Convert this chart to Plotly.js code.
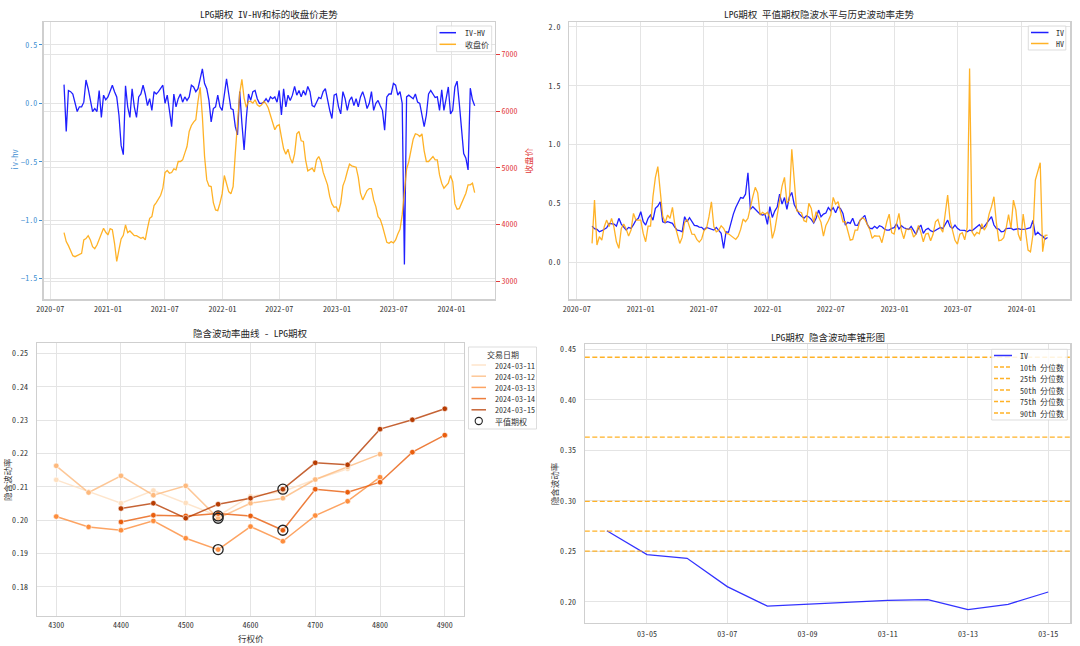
<!DOCTYPE html>
<html>
<head>
<meta charset="utf-8">
<script src="https://cdn.plot.ly/plotly-3.0.1.min.js"></script>
<style>
  html, body { margin: 0; padding: 0; background: #ffffff; }
  #chart { width: 1080px; height: 646px; }
</style>
</head>
<body>
<div id="chart"></div>
<script>
// ---------------------------------------------------------------------------
// Data
// ---------------------------------------------------------------------------
// History series are sampled once a week starting from this date.
const historyStart = '2020-08-14';
const historyStepDays = 7;

// IV - HV spread of the at-the-money option
const ivHv = [
  0.16,-0.24,0.11,0.10,0.08,0.00,-0.07,-0.03,-0.03,0.01,
  0.20,0.125,0.01,-0.07,-0.045,-0.07,0.11,-0.12,0.07,0.03,
  0.055,0.11,0.155,0.10,0.055,-0.10,-0.36,-0.44,0.15,-0.03,
  -0.12,0.125,-0.03,-0.12,0.055,0.08,0.155,0.08,-0.02,0.04,
  -0.06,0.10,0.08,0.10,0.125,0.155,0.00,0.07,-0.06,-0.20,
  0.08,-0.03,0.04,0.08,0.01,0.055,0.025,0.055,0.155,0.14,
  0.10,0.125,0.21,0.295,0.17,0.125,0.025,-0.16,-0.045,-0.03,
  0.07,-0.03,-0.06,0.08,0.21,0.08,-0.045,-0.055,-0.20,-0.27,
  0.10,-0.17,-0.40,-0.13,0.08,0.025,0.10,0.11,0.04,0.00,
  0.00,0.01,0.04,0.01,0.055,0.04,0.055,0.01,0.11,-0.10,
  0.125,-0.03,0.07,0.025,0.07,0.145,0.07,0.11,0.055,0.11,
  0.07,0.145,0.10,-0.02,-0.03,0.01,0.05,0.04,0.10,0.125,
  0.025,-0.06,-0.13,0.07,0.08,-0.03,-0.09,0.10,0.04,-0.06,
  0.025,0.055,-0.02,0.04,-0.03,0.055,0.10,0.04,-0.045,0.00,
  0.10,-0.06,0.00,0.025,-0.02,-0.06,-0.23,0.055,0.08,0.08,
  0.17,0.155,0.07,0.10,0.00,-1.38,0.055,0.07,0.055,0.04,
  0.08,0.01,0.00,-0.10,-0.20,-0.10,0.08,0.11,0.08,0.05,
  0.055,-0.06,0.115,-0.06,0.04,0.14,-0.09,-0.06,0.14,0.19,
  0.00,-0.20,-0.43,-0.47,-0.57,0.13,0.03,-0.02
];

// Underlying close price
const closePrice = [
  3859,3700,3629,3524,3453,3435,3453,3465,3494,3730,
  3753,3806,3730,3612,3576,3641,3747,3847,3935,3865,
  3818,3929,3912,3671,3350,3553,3747,3812,3994,3859,
  3888,3847,3806,3806,3788,3759,3776,3730,3935,4112,
  4141,4335,4388,4447,4518,4641,4918,4953,4906,4918,
  4982,4965,5112,5112,5141,5259,5376,5641,5747,5806,
  5847,6171,6420,5906,5200,4788,4682,4671,4388,4259,
  4247,4376,4541,4865,4741,4582,4541,4671,5259,5847,
  6318,6560,6229,6065,6171,6171,6141,6200,6112,6082,
  6112,6171,6129,6053,5935,5776,5671,5741,5759,5541,
  5335,5241,5329,5171,5082,5247,5600,5641,5476,5465,
  5141,4947,4965,4994,4929,5141,5200,5112,4924,4818,
  4700,4494,4365,4306,4312,4224,4376,4682,4788,4935,
  5065,5035,5024,5012,4835,4553,4435,4529,4600,4635,
  4635,4435,4318,4141,4094,3976,3818,3688,3671,3700,
  3676,3729,3835,3918,4171,4612,4976,5112,5347,5506,
  5600,5588,5553,5600,5300,5112,5112,5159,5200,5141,
  5141,4876,4729,4641,4688,4729,4865,4759,4365,4271,
  4282,4376,4482,4553,4700,4700,4729,4565
];

// At-the-money implied volatility
const atmIv = [
  0.307,0.285,0.279,0.259,0.268,0.279,0.293,0.330,0.330,0.324,
  0.307,0.373,0.324,0.293,0.273,0.296,0.288,0.319,0.358,0.373,
  0.429,0.344,0.316,0.373,0.401,0.358,0.458,0.477,0.514,0.344,
  0.336,0.344,0.339,0.330,0.296,0.273,0.268,0.259,0.387,0.344,
  0.378,0.350,0.313,0.310,0.299,0.296,0.276,0.296,0.288,0.279,
  0.273,0.296,0.273,0.245,0.118,0.259,0.254,0.344,0.409,0.465,
  0.504,0.550,0.544,0.578,0.760,0.449,0.472,0.446,0.429,0.409,
  0.401,0.409,0.322,0.472,0.381,0.435,0.469,0.578,0.494,0.550,
  0.449,0.555,0.593,0.491,0.449,0.412,0.390,0.375,0.395,0.384,
  0.364,0.333,0.373,0.443,0.387,0.409,0.418,0.465,0.438,0.463,
  0.421,0.472,0.455,0.415,0.316,0.339,0.330,0.373,0.316,0.313,
  0.356,0.378,0.398,0.322,0.290,0.285,0.305,0.288,0.310,0.302,
  0.282,0.273,0.273,0.288,0.293,0.327,0.282,0.310,0.293,0.285,
  0.279,0.305,0.271,0.237,0.290,0.316,0.245,0.276,0.288,0.268,
  0.259,0.273,0.285,0.296,0.285,0.316,0.358,0.302,0.288,0.316,
  0.288,0.273,0.273,0.271,0.259,0.273,0.268,0.285,0.299,0.319,
  0.288,0.302,0.330,0.358,0.387,0.316,0.288,0.282,0.259,0.262,
  0.285,0.288,0.290,0.276,0.282,0.285,0.279,0.279,0.282,0.288,
  0.293,0.356,0.231,0.256,0.234,0.222,0.196,0.2095
];

// Historical volatility
const histVol = [
  0.160,0.528,0.146,0.217,0.188,0.302,0.358,0.302,0.373,0.296,
  0.174,0.118,0.288,0.324,0.282,0.222,0.273,0.415,0.358,0.358,
  0.358,0.245,0.174,0.307,0.307,0.557,0.721,0.812,0.585,0.392,
  0.336,0.401,0.373,0.466,0.316,0.231,0.160,0.211,0.336,0.364,
  0.293,0.239,0.237,0.194,0.171,0.197,0.271,0.288,0.387,0.514,
  0.302,0.259,0.271,0.310,0.288,0.245,0.242,0.225,0.214,0.194,
  0.222,0.279,0.367,0.344,0.373,0.472,0.557,0.636,0.590,0.401,
  0.424,0.407,0.424,0.378,0.203,0.273,0.409,0.514,0.647,0.721,
  0.506,0.528,0.959,0.698,0.438,0.429,0.421,0.353,0.344,0.500,
  0.457,0.336,0.429,0.387,0.339,0.222,0.313,0.353,0.401,0.551,
  0.494,0.514,0.429,0.344,0.344,0.273,0.188,0.194,0.273,0.273,
  0.356,0.378,0.364,0.322,0.279,0.203,0.225,0.222,0.222,0.166,
  0.268,0.344,0.409,0.251,0.239,0.324,0.415,0.268,0.200,0.282,
  0.279,0.282,0.214,0.239,0.313,0.254,0.174,0.239,0.245,0.183,
  0.237,0.344,0.364,0.293,0.256,0.401,0.571,0.353,0.268,0.186,
  0.154,0.239,0.251,0.191,0.296,1.647,0.259,0.225,0.254,0.242,
  0.327,0.273,0.307,0.409,0.472,0.557,0.336,0.183,0.188,0.208,
  0.288,0.404,0.288,0.528,0.443,0.237,0.183,0.409,0.259,0.103,
  0.089,0.231,0.698,0.777,0.845,0.089,0.228,0.231
];

// Volatility smile by trading day (null = strike not quoted)
const smileStrikes = [4300,4350,4400,4450,4500,4550,4600,4650,4700,4750,4800,4850,4900];
const smileDates   = ['2024-03-11','2024-03-12','2024-03-13','2024-03-14','2024-03-15'];
const smile0311 = [0.2121,0.2085,0.2051,0.2089,0.2052,0.2013,0.2072,0.2086,0.2122,0.2154,null,null,null];
const smile0312 = [0.2163,0.2083,0.2133,0.2075,0.2103,0.2006,0.2051,0.2066,0.2122,0.2160,0.2198,null,null];
const smile0313 = [0.2011,0.1980,0.1970,0.1998,0.1946,0.1912,0.1981,0.1937,0.2014,0.2057,0.2129,null,null];
const smile0314 = [null,null,0.1995,0.2015,0.2013,0.2020,0.2013,0.1970,0.2093,0.2084,0.2114,0.2204,0.2255];
const smile0315 = [null,null,0.2035,0.2051,0.2006,0.2048,0.2066,0.2093,0.2172,0.2166,0.2273,0.2301,0.2334];
const atmStrikes = [4550,4550,4550,4650,4650];
const smileColors = ['#fedfbf','#fdb97d','#fd8d3c','#e95e0d','#b73c02'];

// Volatility cone: recent ATM IV and historical percentiles
const coneDates = ['2024-03-04','2024-03-05','2024-03-06','2024-03-07','2024-03-08',
                   '2024-03-11','2024-03-12','2024-03-13','2024-03-14','2024-03-15'];
const coneIv = [0.2702,0.2467,0.2430,0.2149,0.1957,0.2013,0.2020,0.1921,0.1974,0.2096];
const percentileLabels = ['10th 分位数','25th 分位数','50th 分位数','75th 分位数','90th 分位数'];
const percentileValues = [0.2500,0.2699,0.2993,0.3629,0.4421];

// ---------------------------------------------------------------------------
// Helpers
// ---------------------------------------------------------------------------
const W = 1080, H = 646;
const FONT = '"Noto Sans Mono CJK SC", "Noto Sans CJK SC", "DejaVu Sans", sans-serif';
const px = v => v / W;          // pixel column -> paper x
const py = v => 1 - v / H;      // pixel row -> paper y
const DAY = 864e5;

function weeklyDates(start, n, step) {
  const t0 = Date.parse(start);
  return Array.from({ length: n }, (_, k) => new Date(t0 + k * step * DAY).toISOString().slice(0, 10));
}
function paddedDateRange(dates, frac) {
  const a = Date.parse(dates[0]), b = Date.parse(dates[dates.length - 1]);
  const pad = (b - a) * frac;
  return [a - pad, b + pad];
}
function rgba(hex, a) {
  const n = parseInt(hex.slice(1), 16);
  return `rgba(${(n >> 16) & 255},${(n >> 8) & 255},${n & 255},${a})`;
}

const historyDates = weeklyDates(historyStart, ivHv.length, historyStepDays);
const historyRange = paddedDateRange(historyDates, 0.05);
const coneRange = paddedDateRange(coneDates, 0.05);
const smileSeries = [smile0311, smile0312, smile0313, smile0314, smile0315];

const BLUE = 'rgba(0,0,255,0.88)';
const ORANGE = 'rgba(255,165,0,0.85)';
const GRID = '#e4e4e4';
const SPINE = '#cfcfcf';
const TEXT = '#333333';
const LBLUE = '#3f8fd2';
const LRED = '#e23b3b';

// ---------------------------------------------------------------------------
// Traces
// ---------------------------------------------------------------------------
const traces = [];
const line = (x, y, xa, ya, color, width, dash) => ({
  type: 'scatter', mode: 'lines', x, y, xaxis: xa, yaxis: ya,
  line: { color, width, dash: dash || 'solid' }, hoverinfo: 'skip', showlegend: false
});

// top-left: IV-HV and close price
traces.push(line(historyDates, ivHv, 'x', 'y', BLUE, 1.3));
traces.push(line(historyDates, closePrice, 'x', 'y2', ORANGE, 1.3));

// top-right: ATM IV vs HV
traces.push(line(historyDates, atmIv, 'x2', 'y3', BLUE, 1.3));
traces.push(line(historyDates, histVol, 'x2', 'y3', ORANGE, 1.3));

// bottom-left: smile per trading day
smileSeries.forEach((ys, i) => {
  traces.push({
    type: 'scatter', mode: 'lines+markers', x: smileStrikes, y: ys, xaxis: 'x3', yaxis: 'y4',
    line: { color: rgba(smileColors[i], 0.8), width: 1.5 },
    marker: { color: smileColors[i], size: 5.5, line: { color: '#ffffff', width: 0.6 } },
    connectgaps: false, hoverinfo: 'skip', showlegend: false
  });
});
// ATM rings
traces.push({
  type: 'scatter', mode: 'markers', xaxis: 'x3', yaxis: 'y4',
  x: atmStrikes,
  y: atmStrikes.map((s, i) => smileSeries[i][smileStrikes.indexOf(s)]),
  marker: { symbol: 'circle', size: 10, color: 'rgba(0,0,0,0)', line: { color: '#222222', width: 1.3 } },
  hoverinfo: 'skip', showlegend: false
});

// bottom-right: volatility cone
traces.push(line(coneDates, coneIv, 'x4', 'y5', 'rgba(0,0,255,0.8)', 1.3));
percentileValues.forEach(v => {
  traces.push(line(coneRange, [v, v], 'x4', 'y5', ORANGE, 1.3, '5px,2.5px'));
});

// ---------------------------------------------------------------------------
// Axes
// ---------------------------------------------------------------------------
function axis(extra) {
  return Object.assign({
    showgrid: true, gridcolor: GRID, gridwidth: 1, zeroline: false,
    showline: true, linecolor: SPINE, linewidth: 1.2, mirror: true,
    ticks: 'outside', ticklen: 4, tickcolor: 'rgba(0,0,0,0)',
    tickfont: { size: 8, color: TEXT, family: FONT }
  }, extra);
}

const topY = [py(299.3), py(21.7)];

const layout = {
  width: W, height: H,
  margin: { l: 0, r: 0, t: 0, b: 0 },
  paper_bgcolor: '#ffffff', plot_bgcolor: '#ffffff',
  showlegend: false,
  font: { family: FONT, size: 8, color: TEXT },

  xaxis: axis({ domain: [px(43.5), px(495.2)], anchor: 'y', type: 'date', range: historyRange,
                tick0: '2020-07-01', dtick: 'M6', tickformat: '%Y-%m', ticklen: 2 }),
  yaxis: axis({ domain: topY, anchor: 'x', range: [-1.678, 0.699], tick0: 0, dtick: 0.5,
                tickformat: '.1f', ticklen: 3.5, tickcolor: LBLUE, tickfont: { size: 8, color: LBLUE, family: FONT } }),
  yaxis2: axis({ overlaying: 'y', side: 'right', anchor: 'x', range: [2684, 7575], tick0: 0, dtick: 1000,
                 mirror: false, ticklen: 3.5, tickcolor: LRED, tickfont: { size: 8, color: LRED, family: FONT } }),

  xaxis2: axis({ domain: [px(569.3), px(1070.3)], anchor: 'y3', type: 'date', range: historyRange,
                 tick0: '2020-07-01', dtick: 'M6', tickformat: '%Y-%m', ticklen: 2 }),
  yaxis3: axis({ domain: topY, anchor: 'x2', range: [-0.315, 2.044], tick0: 0, dtick: 0.5, tickformat: '.1f', ticklen: 6 }),

  xaxis3: axis({ domain: [px(36.8), px(464.2)], anchor: 'y4', range: [4270, 4930], tick0: 4300, dtick: 100, ticklen: 1 }),
  yaxis4: axis({ domain: [py(616), py(342.7)], anchor: 'x3', range: [0.1713, 0.2532], tick0: 0, dtick: 0.01,
                 tickformat: '.2f', ticklen: 6 }),

  xaxis4: axis({ domain: [px(584.8), px(1070.3)], anchor: 'y5', type: 'date', range: coneRange,
                 tick0: '2024-03-05', dtick: 2 * DAY, tickformat: '%m-%d', ticklen: 3 }),
  yaxis5: axis({ domain: [py(622.7), py(344.3)], anchor: 'x4', range: [0.1792, 0.4549], tick0: 0, dtick: 0.05,
                 tickformat: '.2f', ticklen: 6 }),

  shapes: [],
  annotations: []
};

// ---------------------------------------------------------------------------
// Titles and axis labels
// ---------------------------------------------------------------------------
function text(x, y, str, opts) {
  layout.annotations.push(Object.assign({
    xref: 'paper', yref: 'paper', x: px(x), y: py(y), text: str, showarrow: false,
    xanchor: 'center', yanchor: 'middle',
    font: { size: 8, color: TEXT, family: FONT }
  }, opts || {}));
}
const titleFont = { size: 9.5, color: '#262626', family: FONT };
text(269.4, 14, 'LPG期权 IV-HV和标的收盘价走势', { font: titleFont });
text(819.8, 14, 'LPG期权 平值期权隐波水平与历史波动率走势', { font: titleFont });
text(250.5, 333, '隐含波动率曲线 - LPG期权', { font: { size: 9.5, color: '#262626', family: FONT } });
text(827.5, 336.5, 'LPG期权 隐含波动率锥形图', { font: titleFont });

text(13, 160.5, 'iv-hv', { textangle: -90, font: { size: 8.5, color: LBLUE, family: FONT } });
text(527, 160.5, '收盘价', { textangle: -90, font: { size: 8.5, color: LRED, family: FONT } });
text(7.6, 479.4, '隐含波动率', { textangle: -90, font: { size: 8.5, color: TEXT, family: FONT } });
text(250.5, 638, '行权价', { font: { size: 8.5, color: TEXT, family: FONT } });
text(553.8, 483.5, '隐含波动率', { textangle: -90, font: { size: 8.5, color: TEXT, family: FONT } });

// ---------------------------------------------------------------------------
// Compact legends
// ---------------------------------------------------------------------------
function legend(box, rows, lineX, textX, title) {
  layout.shapes.push({
    type: 'rect', xref: 'paper', yref: 'paper', layer: 'above',
    x0: px(box[0]), x1: px(box[2]), y0: py(box[3]), y1: py(box[1]),
    fillcolor: 'rgba(255,255,255,0.85)', line: { color: '#d4d4d4', width: 0.8 }
  });
  if (title) text((box[0] + box[2]) / 2, title.y, title.text);
  rows.forEach(r => {
    if (r.ring) {
      const cx = (lineX[0] + lineX[1]) / 2, rr = 3.6;
      layout.shapes.push({
        type: 'circle', xref: 'paper', yref: 'paper', layer: 'above',
        x0: px(cx - rr), x1: px(cx + rr), y0: py(r.y + rr), y1: py(r.y - rr),
        line: { color: '#222222', width: 1.1 }
      });
    } else {
      layout.shapes.push({
        type: 'line', xref: 'paper', yref: 'paper', layer: 'above',
        x0: px(lineX[0]), x1: px(lineX[1]), y0: py(r.y), y1: py(r.y),
        line: { color: r.color, width: r.width || 1.5, dash: r.dash || 'solid' }
      });
    }
    text(textX, r.y, r.label, { xanchor: 'left' });
  });
}

legend([436.6, 26, 491.7, 51.7],
  [{ label: 'IV-HV', color: BLUE, y: 32.7 }, { label: '收盘价', color: ORANGE, y: 44.3 }],
  [439.5, 456], 463);

legend([1028.3, 26, 1065.8, 50],
  [{ label: 'IV', color: BLUE, y: 32.5 }, { label: 'HV', color: ORANGE, y: 43.5 }],
  [1031, 1048.5], 1054);

legend([468.5, 347, 536.5, 429],
  smileDates.map((d, i) => ({ label: d, color: rgba(smileColors[i], 0.8), y: 365 + i * 11.2 }))
    .concat([{ label: '平值期权', ring: true, y: 365 + 5 * 11.2 }]),
  [471.5, 486], 492.5, { text: '交易日期', y: 354.5 });

legend([991.7, 349.3, 1067.3, 420],
  [{ label: 'IV', color: 'rgba(0,0,255,0.8)', y: 355.5 }]
    .concat(percentileLabels.map((l, i) => ({ label: l, color: ORANGE, dash: '4px,2px', y: 367 + i * 11.5 }))),
  [994, 1012], 1018);

Plotly.newPlot('chart', traces, layout, { staticPlot: true, displayModeBar: false });
</script>
</body>
</html>
